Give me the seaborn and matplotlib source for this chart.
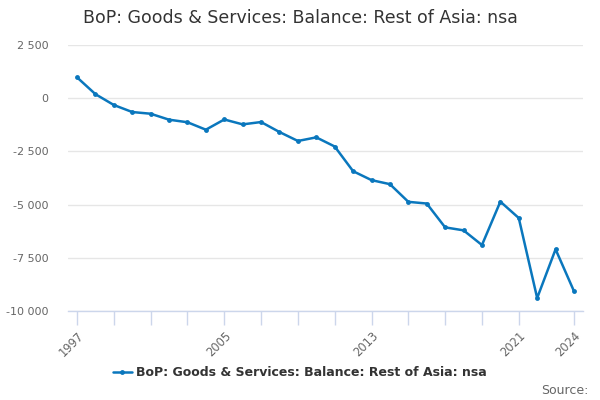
import matplotlib
matplotlib.use("Agg")
import matplotlib.pyplot as plt
import seaborn as sns
import pandas as pd
from matplotlib.ticker import FuncFormatter, FixedLocator
from matplotlib.lines import Line2D

years = list(range(1997, 2025))
values = [980, 190, -320, -650, -730, -1010, -1130, -1480, -1000, -1230,
          -1120, -1590, -2010, -1840, -2270, -3430, -3850, -4040, -4870, -4950,
          -6070, -6210, -6900, -4860, -5630, -9390, -7100, -9070]
series_name = "BoP: Goods & Services: Balance: Rest of Asia: nsa"
title = "BoP: Goods & Services: Balance: Rest of Asia: nsa"
y_ticks = [2500, 0, -2500, -5000, -7500, -10000]
x_tick_marks = list(range(1997, 2022, 2)) + [2024]
x_tick_labels = [1997, 2005, 2013, 2021, 2024]

df = pd.DataFrame({"year": years, "value": values, "series": series_name})

sns.set_theme(style="white")
plt.rcParams['font.family'] = ['DejaVu Sans']

fig = plt.figure(figsize=(6, 4), dpi=100)
ax = fig.add_axes([68/600, 1-311/400, (583-68)/600, (311-45)/400])

color = "#0a77bd"
sns.lineplot(data=df, x="year", y="value", hue="series", palette=[color],
             marker="o", markersize=3.5, markeredgewidth=0, linewidth=1.8, ax=ax,
             legend=False)

ax.set_xlim(1996.51, 2024.49)
ax.set_ylim(-10000, 2500)
ax.set_yticks(y_ticks)
ax.yaxis.set_major_formatter(FuncFormatter(lambda v, p: f"{int(v):,}".replace(",", " ")))
ax.grid(axis="y", color="#e6e6e6", linewidth=1)
ax.set_axisbelow(True)

ax.xaxis.set_major_locator(FixedLocator(x_tick_marks))
ax.set_xticklabels([str(y) if y in x_tick_labels else "" for y in x_tick_marks],
                   rotation=45, ha="right", rotation_mode="anchor")
ax.tick_params(axis="x", length=10, width=1, color="#ccd6eb", labelsize=8.3, labelcolor="#666666", pad=3, bottom=True)
ax.tick_params(axis="y", length=0, labelsize=8, labelcolor="#666666", pad=14)

for s in ["top", "right", "left"]:
    ax.spines[s].set_visible(False)
ax.spines["bottom"].set_color("#ccd6eb")
ax.spines["bottom"].set_linewidth(1)
ax.set_xlabel("")
ax.set_ylabel("")

fig.text(0.5, 1-18/400, title, ha="center", va="center", fontsize=12.5, color="#333333")

handle = Line2D([0], [0], color=color, marker="o", markersize=3.5, markeredgewidth=0, linewidth=1.8)
fig.legend([handle], [series_name], loc="center", bbox_to_anchor=(0.5, 1-373/400),
           frameon=False, prop={"weight": "bold", "size": 9.0}, labelcolor="#333333",
           handlelength=1.5, handletextpad=0.4)

fig.text(589/600, 1-390/400, "Source:", ha="right", va="center", fontsize=9, color="#666666")

fig.savefig("out.png", dpi=100)
